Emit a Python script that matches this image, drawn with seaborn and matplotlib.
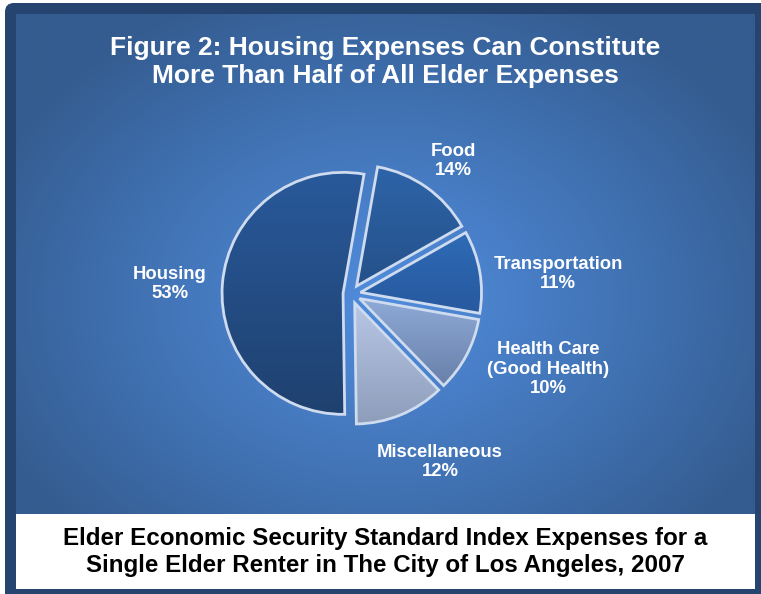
import numpy as np
import matplotlib
matplotlib.use("Agg")
import matplotlib.pyplot as plt
from matplotlib.patches import Rectangle, FancyBboxPatch
import seaborn as sns

# ---- data ----
categories = ["Food", "Transportation", "Health Care\n(Good Health)", "Miscellaneous", "Housing"]
shares = [14, 11, 10, 12, 53]
explode = [0.08, 0.08, 0.08, 0.08, 0.066]
label_pos = [(453, 161), (558, 274), (548, 369), (440, 462), (170, 284)]  # pixel centres

title_lines = "Figure 2: Housing Expenses Can Constitute\nMore Than Half of All Elder Expenses"
caption = "Elder Economic Security Standard Index Expenses for a\nSingle Elder Renter in The City of Los Angeles, 2007"

# top / bottom colours of the vertical shading in each wedge
wedge_top = ["#2d64a8", "#2e6bb6", "#8eaad6", "#b6c6e4", "#29599a"]
wedge_bot = ["#25518a", "#27599e", "#6880aa", "#8d9dba", "#1f416f"]

sns.set_theme(style="white")
plt.rcParams["font.family"] = ["Liberation Sans", "DejaVu Sans"]

W, H = 761, 594
fig = plt.figure(figsize=(W / 100, H / 100), dpi=100)
fig.patch.set_facecolor("white")

# full-figure canvas in pixel units (y down)
bg = fig.add_axes([0, 0, 1, 1])
bg.set_xlim(0, W)
bg.set_ylim(H, 0)
bg.axis("off")

# dark frame
bg.add_patch(FancyBboxPatch((5, 3), W - 5 + 20, H - 3 + 20,
                            boxstyle="round,pad=0,rounding_size=9",
                            facecolor="#264470", edgecolor="none", zorder=0))

# radial blue gradient panel
x0, x1, y0, y1 = 16, 755, 14, 514
gx = np.linspace(x0, x1, 400)
gy = np.linspace(y0, y1, 300)
GX, GY = np.meshgrid(gx, gy)
d = np.sqrt(((GX - 385) / 430) ** 2 + ((GY - 300) / 330) ** 2)
d = np.clip(d, 0, 1) ** 1.1
c_in = np.array(matplotlib.colors.to_rgb("#508cdc"))
c_out = np.array(matplotlib.colors.to_rgb("#345c90"))
img = c_in[None, None, :] * (1 - d[..., None]) + c_out[None, None, :] * d[..., None]
bg.imshow(img, extent=[x0, x1, y1, y0], aspect="auto", zorder=1, interpolation="bilinear")

# white caption box
bg.add_patch(Rectangle((16, 514), 739, 75, facecolor="white", edgecolor="none", zorder=2))

bg.text(385, 62, title_lines, ha="center", va="center", color="white",
        fontsize=19, fontweight="bold", linespacing=1.2, zorder=3)
bg.text(385, 552, caption, ha="center", va="center", color="black",
        fontsize=17.4, fontweight="bold", linespacing=1.22, zorder=3)

for name, val, (px, py) in zip(categories, shares, label_pos):
    bg.text(px, py, f"{name}\n{val}%", ha="center", va="center", color="white",
            fontsize=13.3, fontweight="bold", linespacing=1.2, zorder=3)

# pie axes: centre at (351, 294) px, radius 121 px
cx, cy, R, half = 351, 294, 121, 160
ax = fig.add_axes([(cx - half) / W, (H - cy - half) / H, 2 * half / W, 2 * half / H])
ax.patch.set_alpha(0)
wedges, _ = ax.pie(shares, explode=explode, startangle=80, counterclock=False,
                   radius=1.0, wedgeprops=dict(edgecolor="#cfdbee", linewidth=2.0))
lim = half / R
ax.set_xlim(-lim, lim)
ax.set_ylim(-lim, lim)
ax.set_aspect("equal")
ax.axis("off")

for w, ct, cb in zip(wedges, wedge_top, wedge_bot):
    ext = w.get_path().get_extents(w.get_patch_transform())
    grad = np.array(sns.blend_palette([cb, ct], n_colors=64))[:, None, :]
    im = ax.imshow(grad, extent=[ext.x0, ext.x1, ext.y0, ext.y1], origin="lower",
                   aspect="auto", zorder=1, interpolation="bilinear")
    im.set_clip_path(w)
    w.set_facecolor("none")
    w.set_zorder(2)

ax.set_xlim(-lim, lim)
ax.set_ylim(-lim, lim)

fig.savefig("out.png", dpi=100)
